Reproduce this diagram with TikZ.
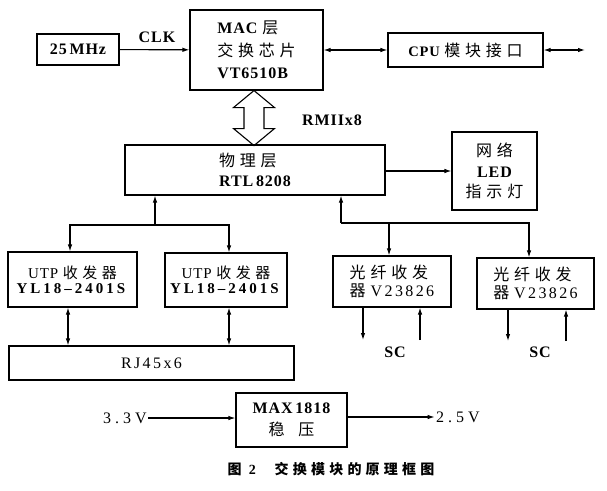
\documentclass[tikz,border=0pt]{standalone}
\usepackage{fontspec}
\setmainfont{Liberation Serif}[LetterSpace=6]
\newfontfamily\zhfont[LetterSpace=30]{Noto Sans CJK SC}
\newcommand{\zh}[1]{{\zhfont\mdseries #1}}
\usepackage{tikz}
\usetikzlibrary{positioning, arrows.meta}
\tikzset{
		block/.style={
			rectangle,
			draw=black,
			line width=1.1pt,
			align=center,
			inner sep=1pt,
			font=\bfseries\fontsize{16}{20}\selectfont
		},
		tag/.style={
			inner sep=1pt,
			font=\bfseries\fontsize{16}{19}\selectfont
		},
		volt/.style={
			inner sep=1pt,
			font=\fontsize{16}{19}\selectfont\addfontfeature{LetterSpace=25}
		},
		utp/.style={
			block,
			font=\fontsize{15}{15}\selectfont
		},
		fiber/.style={
			block,
			align=left,
			minimum width=118pt,
			minimum height=51pt,
			font=\fontsize{16}{18}\selectfont
		}
	}

\begin{document}
\begin{tikzpicture}[x=1pt, y=-1pt, >={Latex[length=7pt,width=4.5pt]}, line width=1.1pt]
		\useasboundingbox (0,0) rectangle (607,490);
		\node (osc) [block, minimum width=82pt, minimum height=31pt] at (78,49.5) {25\,MHz};
		\node (mac) [block, minimum width=133pt, minimum height=80pt, align=left,
			font=\bfseries\fontsize{16}{22.5}\selectfont] at (256.5,50)
			{MAC \zh{层}\\\zh{交换芯片}\\VT6510B};
		\node (cpu) [block, minimum width=155pt, minimum height=34pt,
			font=\bfseries\fontsize{14.5}{16}\selectfont] at (465.5,50)
			{CPU\ {\fontsize{16}{16}\selectfont\zh{模块接口}}};
		\node (phy) [block, minimum width=260pt, minimum height=50pt, align=left] at (255,170)
			{\zh{物理层}\\RTL\,8208};
		\node (led) [block, minimum width=85pt, minimum height=78pt,
			font=\bfseries\fontsize{16}{20.5}\selectfont] at (494.5,171)
			{\zh{网络}\\LED\\\zh{指示灯}};
		\node (utpa) [utp, minimum width=129pt, minimum height=55pt] at (72.5,279.5)
			{UTP \zh{收发器}\\\textbf{\addfontfeature{LetterSpace=20}YL18–2401S}};
		\node (utpb) [utp, minimum width=122pt, minimum height=54pt] at (226,280)
			{UTP \zh{收发器}\\\textbf{\addfontfeature{LetterSpace=20}YL18–2401S}};
		\node (rj) [block, minimum width=285pt, minimum height=34pt,
			font=\fontsize{16}{19}\selectfont\addfontfeature{LetterSpace=15}] at (151.5,363) {RJ45x6};
		\node (fa) [fiber] at (392,281.5)
			{\zh{光纤收发}\\\zh{器} {\addfontfeature{LetterSpace=15}V23826}};
		\node (fb) [fiber, minimum width=117pt] at (535.5,283.5)
			{\zh{光纤收发}\\\zh{器} {\addfontfeature{LetterSpace=15}V23826}};
		\node (reg) [block, minimum width=111pt, minimum height=54pt,
			font=\bfseries\fontsize{16}{22}\selectfont] at (291.5,420)
			{MAX\,1818\\\zh{稳}\hspace{14pt}\zh{压}};
		% labels:
		\node (clk) [tag] at (157,37) {CLK};
		\node (rmiitag) [tag] at (332,120) {RMIIx8};
		\node (sca) [tag] at (395,352) {SC};
		\node (scb) [tag] at (540,352) {SC};
		\node (vin) [volt] at (125,418) {3.3V};
		\node (vout) [volt] at (458,417) {2.5V};
		\node (title) [font=\fontsize{14}{14}\selectfont] at (331,469)
			{{\zhfont\bfseries 图}\hspace{3pt}\textbf{2}\hspace{18pt}{\zhfont\bfseries 交换模块的原理框图}};
		\coordinate (bus) at (585,50);
		\coordinate (ljoin) at (155,225);
		\coordinate (rjoin) at (341,223);
		\coordinate (fa tx) at (363,340);
		\coordinate (fa rx) at (420,340);
		\coordinate (fb tx) at (508,341);
		\coordinate (fb rx) at (566,341);
		% RMII bus:
		\draw[line join=miter] ([xshift=-2.5pt]mac.south) -- ++(20.5,17) -- ++(-10.5,0) -- ++(0,21)
			-- ++(10.5,0) -- ++(-20.5,17) -- ++(-20.5,-17) -- ++(10.5,0) -- ++(0,-21)
			-- ++(-10.5,0) -- cycle;
		%arrows:
		\draw[->] (osc) -- (mac);
		\draw[<->] (mac) -- (cpu);
		\draw[<->] (cpu) -- (bus);
		\draw[->] (phy.east |- led.west) -- (led.west);
		\draw[->] (ljoin) -- (ljoin |- phy.south);
		\draw[->] (ljoin) -| ([xshift=-2.5pt]utpa.north);
		\draw[->] (ljoin) -| ([xshift=3pt]utpb.north);
		\draw[<->] ([xshift=-4.5pt]utpa.south) -- ([xshift=-4.5pt]utpa.south |- rj.north);
		\draw[<->] ([xshift=3pt]utpb.south) -- ([xshift=3pt]utpb.south |- rj.north);
		\draw[->] (rjoin) -- (rjoin |- phy.south);
		\draw[->] (rjoin) -| ([xshift=-3pt]fa.north);
		\draw[->] (rjoin) -| ([xshift=-6.5pt]fb.north);
		\draw[->] (fa tx |- fa.south) -- (fa tx);
		\draw[->] (fa rx) -- (fa rx |- fa.south);
		\draw[->] (fb tx |- fb.south) -- (fb tx);
		\draw[->] (fb rx) -- (fb rx |- fb.south);
		\draw[->] (vin.east) -- (vin.east -| reg.west);
		\draw[->] (reg.east |- vout.west) -- (vout.west);
	\end{tikzpicture}
\end{document}
